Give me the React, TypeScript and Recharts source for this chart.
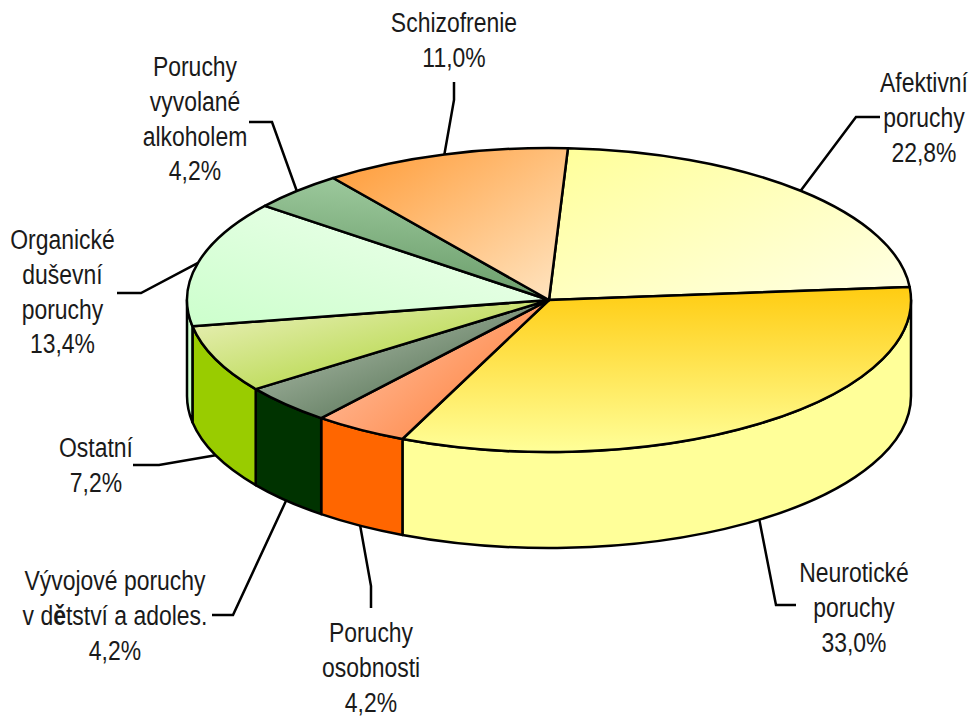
import React from 'react';
import { PieChart, Pie } from 'recharts';

const categories = [
  'Afektivní\nporuchy',
  'Neurotické\nporuchy',
  'Poruchy\nosobnosti',
  'Vývojové poruchy\nv dětství a adoles.',
  'Ostatní',
  'Organické\nduševní\nporuchy',
  'Poruchy\nvyvolané\nalkoholem',
  'Schizofrenie',
];
const shares = [22.8, 33.0, 4.2, 4.2, 7.2, 13.4, 4.2, 11.0];
const rows = categories.map((name, i) => ({ name, value: shares[i] }));

const wallColors = ['#FFFF99', '#FFFF99', '#FF6600', '#003300', '#99CC00', '#CCFFCC', '#669966', '#FF9933'];
// x1, y1, x2, y2, from, to
const topGradients: [number, number, number, number, string, string][] = [
  [0, 0, 1, 1, '#FFFF99', '#FFFFE6'],
  [0, 0, 0, 1, '#FFCC11', '#FFFF99'],
  [0, 0.2, 1, 0.9, '#FFC4A8', '#FF7A30'],
  [0, 0, 1, 1, '#C4CFC0', '#3A5C3A'],
  [0, 0, 1, 1, '#EEF2C4', '#A3CF20'],
  [0, 1, 1, 0, '#CCFFCC', '#F2FFF0'],
  [0.6, 0, 0.4, 1, '#A0CCA0', '#669966'],
  [0, 0, 1, 1, '#FF9933', '#FFE6C4'],
];

// centre x, first baseline, elbow x/y, end x/y of each callout
const callouts = [
  { x: 924, y: 92, elbow: [856, 117], end: [880, 117] },
  { x: 854, y: 582, elbow: [776, 605], end: [796, 605] },
  { x: 371, y: 642, elbow: [371, 586], end: [371, 608] },
  { x: 115, y: 590, elbow: [233, 615], end: [212, 615] },
  { x: 96, y: 457, elbow: [159, 465], end: [133, 465] },
  { x: 62.5, y: 249, elbow: [141, 293], end: [117, 293] },
  { x: 195, y: 76, elbow: [272, 122], end: [249, 122] },
  { x: 454, y: 32, elbow: [454, 100], end: [454, 82] },
];

const CX = 549;
const CY = 300;
const RX = 362;
const RY = 152;
const DEPTH = 96;
const LINE = 34.8;
const SQUEEZE = 0.85;
const EDGE = 2.5;
const RAD = Math.PI / 180;

const pt = (cx: number, cy: number, rx: number, a: number, dy = 0) => {
  const ry = (rx * RY) / RX;
  return [cx + rx * Math.cos(a * RAD), cy - ry * Math.sin(a * RAD) + dy];
};

const arcTo = (rx: number, from: number, to: number, p: number[], sweep: number) => {
  const ry = (rx * RY) / RX;
  return `A${rx} ${ry} 0 ${Math.abs(from - to) > 180 ? 1 : 0} ${sweep} ${p[0]} ${p[1]}`;
};

const Slice = (props: any) => {
  const { cx, cy, outerRadius: r, startAngle, endAngle, index } = props;
  const hi = Math.min(startAngle, 0);
  const lo = Math.max(endAngle, -180);
  const a = pt(cx, cy, r, startAngle);
  const b = pt(cx, cy, r, endAngle);
  let wall = null;
  if (hi > lo) {
    const p1 = pt(cx, cy, r, hi);
    const p2 = pt(cx, cy, r, lo);
    const p3 = pt(cx, cy, r, lo, DEPTH);
    const p4 = pt(cx, cy, r, hi, DEPTH);
    wall = (
      <path
        d={`M${p1[0]} ${p1[1]}${arcTo(r, hi, lo, p2, 1)}L${p3[0]} ${p3[1]}${arcTo(r, hi, lo, p4, 0)}Z`}
        fill={wallColors[index]}
        stroke="#000"
        strokeWidth={EDGE}
        strokeLinejoin="round"
      />
    );
  }
  return (
    <g>
      {wall}
      <path
        d={`M${cx} ${cy}L${a[0]} ${a[1]}${arcTo(r, startAngle, endAngle, b, 1)}Z`}
        fill={`url(#top${index})`}
        stroke="#000"
        strokeWidth={EDGE}
        strokeLinejoin="round"
      />
    </g>
  );
};

const Glyphs = ({ text }: { text: string }) => {
  const parts = text.split('ě');
  return (
    <>
      {parts.map((p, i) => (
        <React.Fragment key={i}>
          {i > 0 && <tspan fontWeight="bold">ě</tspan>}
          {p}
        </React.Fragment>
      ))}
    </>
  );
};

const Callout = (props: any) => {
  const { cx, cy, outerRadius: r, midAngle, index, name, value } = props;
  const c = callouts[index];
  const front = Math.sin(midAngle * RAD) < 0;
  const s = pt(cx, cy, r, midAngle, front ? DEPTH : 0);
  const lines = [...String(name).split('\n'), `${Number(value).toFixed(1).replace('.', ',')}%`];
  return (
    <g>
      <polyline
        points={`${s[0]},${s[1]} ${c.elbow[0]},${c.elbow[1]} ${c.end[0]},${c.end[1]}`}
        fill="none"
        stroke="#000"
        strokeWidth={EDGE}
      />
      {lines.map((t, i) => (
        <text
          key={i}
          transform={`translate(${c.x} ${c.y + i * LINE}) scale(${SQUEEZE} 1)`}
          textAnchor="middle"
          fontFamily="'Liberation Sans', Arial, sans-serif"
          fontSize={27}
          fill="#1a1a1a"
        >
          <Glyphs text={t} />
        </text>
      ))}
    </g>
  );
};

export default function App() {
  return (
    <div style={{ position: 'absolute', left: 0, top: 0, width: 972, height: 718, background: '#fff' }}>
      <PieChart width={972} height={718} margin={{ top: 0, right: 0, bottom: 0, left: 0 }}>
        <defs>
          {topGradients.map(([x1, y1, x2, y2, from, to], i) => (
            <linearGradient key={i} id={`top${i}`} x1={x1} y1={y1} x2={x2} y2={y2}>
              <stop offset="0" stopColor={from} />
              <stop offset="1" stopColor={to} />
            </linearGradient>
          ))}
        </defs>
        <Pie
          data={rows}
          dataKey="value"
          nameKey="name"
          cx={CX}
          cy={CY}
          innerRadius={0}
          outerRadius={RX}
          startAngle={87}
          endAngle={-273}
          paddingAngle={0}
          stroke="none"
          shape={Slice}
          label={Callout}
          labelLine={false}
          isAnimationActive={false}
        />
      </PieChart>
    </div>
  );
}
